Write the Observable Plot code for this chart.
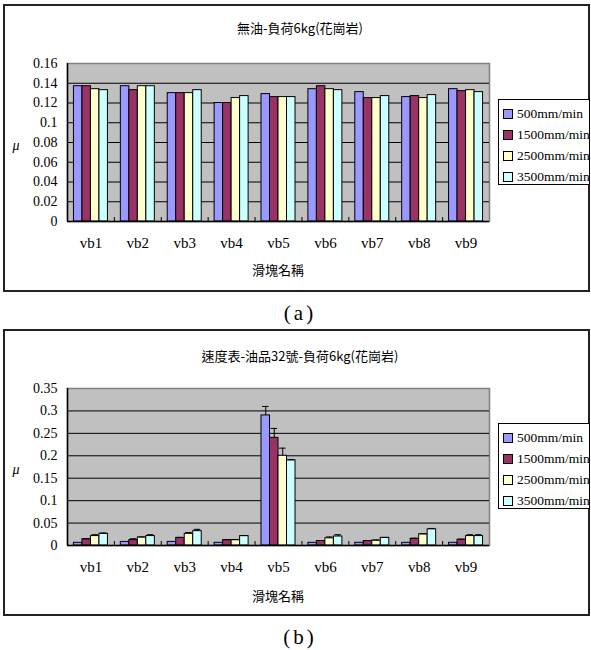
<!DOCTYPE html>
<html><head><meta charset="utf-8">
<script src="https://cdn.jsdelivr.net/npm/d3@7"></script>
<script src="https://cdn.jsdelivr.net/npm/@observablehq/plot@0.6"></script>
<style>
html,body{margin:0;padding:0;background:#fff;}
body{width:591px;height:650px;position:relative;overflow:hidden;font-family:"Liberation Serif",serif;color:#000;}
.box{position:absolute;border:2px solid #222;box-sizing:border-box;}
.lbl{position:absolute;white-space:nowrap;transform:translate(-50%,-50%);line-height:1;}
.svgwrap{position:absolute;left:0;}
.legend{position:absolute;border:1px solid #000;background:#fff;box-sizing:border-box;}
.entry{position:absolute;left:4px;height:16px;display:flex;align-items:center;font-size:13.5px;white-space:nowrap;font-family:"Liberation Serif",serif;}
.sw{width:8px;height:8px;border:1px solid #000;margin-right:4px;flex:none;}
</style>
</head><body>
<script>
const categories = ["vb1","vb2","vb3","vb4","vb5","vb6","vb7","vb8","vb9"];
const series = ["500mm/min","1500mm/min","2500mm/min","3500mm/min"];
const colors = ["#9999ff","#993366","#ffffcc","#ccffff"];

// (a) 無油-負荷6kg(花崗岩)
const a500  = [0.137,0.137,0.130,0.120,0.129,0.134,0.131,0.126,0.134];
const a1500 = [0.137,0.133,0.130,0.120,0.126,0.137,0.125,0.127,0.132];
const a2500 = [0.134,0.137,0.130,0.125,0.126,0.134,0.125,0.125,0.133];
const a3500 = [0.133,0.137,0.133,0.127,0.126,0.133,0.127,0.128,0.131];
const yTicksA = [0,0.02,0.04,0.06,0.08,0.1,0.12,0.14,0.16];

// (b) 速度表-油品32號-負荷6kg(花崗岩)
const b500  = [0.006,0.008,0.008,0.006,0.290,0.006,0.006,0.006,0.006];
const b1500 = [0.014,0.012,0.017,0.012,0.240,0.010,0.010,0.015,0.013];
const b2500 = [0.021,0.018,0.026,0.012,0.200,0.016,0.011,0.025,0.021];
const b3500 = [0.026,0.021,0.032,0.021,0.190,0.020,0.017,0.036,0.021];
const e500  = [0,0,0,0,0.020,0,0,0,0];
const e1500 = [0.001,0.003,0.001,0.001,0.021,0.001,0.001,0.001,0.001];
const e2500 = [0.003,0.001,0.003,0.001,0.017,0.003,0.001,0.001,0.003];
const e3500 = [0.002,0.003,0.004,0.001,0.001,0.004,0.001,0.002,0.003];
const yTicksB = [0,0.05,0.1,0.15,0.2,0.25,0.3,0.35];

const titleA = "無油-負荷6kg(花崗岩)";
const titleB = "速度表-油品32號-負荷6kg(花崗岩)";
const xTitle = "滑塊名稱";
const yTitle = "μ";

function table(cols, errs) {
  const rows = [];
  categories.forEach((c, i) => cols.forEach((col, k) =>
    rows.push({cat: c, i, k, series: series[k], value: col[i], err: errs ? errs[k][i] : 0})));
  return rows;
}

const pad = 0.1375, bw = 0.725 / 4;
const x1 = d => d.i + pad + d.k * bw;
const x2 = d => d.i + pad + (d.k + 1) * bw;
const xc = d => d.i + pad + (d.k + 0.5) * bw;
const serif = "Liberation Serif";

function chart(rows, yTicks, top, height, mt, mb) {
  const yMax = yTicks[yTicks.length - 1];
  const errRows = rows.filter(d => d.err > 0);
  const svg = Plot.plot({
    width: 495, height, marginLeft: 67, marginRight: 6, marginTop: mt, marginBottom: mb,
    style: {fontFamily: serif, fontSize: "14px", color: "#000", background: "transparent", overflow: "visible"},
    x: {type: "linear", domain: [0, categories.length], axis: null},
    y: {domain: [0, yMax], axis: null},
    color: {domain: series, range: colors},
    marks: [
      Plot.frame({fill: "#c0c0c0", stroke: "#808080", strokeWidth: 1.5}),
      Plot.gridY(yTicks.filter(t => t > 0 && t < yMax), {stroke: "#000", strokeOpacity: 1, strokeWidth: 1}),
      Plot.rect(rows, {x1, x2, y1: 0, y2: "value", fill: "series", stroke: "#000", strokeWidth: 1}),
      Plot.ruleX(errRows, {x: xc, y1: "value", y2: d => d.value + d.err, stroke: "#000", strokeWidth: 1}),
      Plot.ruleY(errRows, {y: d => d.value + d.err, x1: d => xc(d) - 0.07, x2: d => xc(d) + 0.07, stroke: "#000", strokeWidth: 1}),
      Plot.ruleY([0], {stroke: "#000", strokeWidth: 1.5}),
      Plot.ruleX([0], {stroke: "#000", strokeWidth: 1.5}),
      Plot.axisY({ticks: yTicks, label: null, tickSize: 0, tickPadding: 10, fontSize: 14, fontFamily: serif, tickFormat: d => String(+d.toFixed(2))}),
      Plot.axisX({ticks: categories.map((c, i) => i + 0.5), label: null, tickSize: 0, tickPadding: 16, fontSize: 15, fontFamily: serif, tickFormat: v => categories[Math.floor(v)]}),
      Plot.axisX({ticks: d3.range(1, categories.length), label: null, tickSize: -4, tickFormat: () => ""})
    ]
  });
  const wrap = document.createElement("div");
  wrap.className = "svgwrap";
  wrap.style.top = top + "px";
  wrap.appendChild(svg);
  document.body.appendChild(wrap);
}

function box(l, t, w, h) {
  const d = document.createElement("div");
  d.className = "box";
  Object.assign(d.style, {left: l + "px", top: t + "px", width: w + "px", height: h + "px"});
  document.body.appendChild(d);
}
function label(text, x, y, css) {
  const d = document.createElement("div");
  d.className = "lbl";
  d.textContent = text;
  Object.assign(d.style, {left: x + "px", top: y + "px"}, css || {});
  document.body.appendChild(d);
}
function legend(top) {
  const lg = document.createElement("div");
  lg.className = "legend";
  Object.assign(lg.style, {left: "498px", top: top + "px", width: "92px", height: "86px"});
  series.forEach((s, k) => {
    const e = document.createElement("div");
    e.className = "entry";
    e.style.top = (6 + k * 21) + "px";
    const sw = document.createElement("span");
    sw.className = "sw";
    sw.style.background = colors[k];
    const t = document.createElement("span");
    t.textContent = s;
    e.appendChild(sw); e.appendChild(t);
    lg.appendChild(e);
  });
  document.body.appendChild(lg);
}

const cjk = {fontFamily: '"Noto Sans CJK TC","Noto Sans CJK SC",sans-serif', fontSize: "13px"};

// panel (a)
box(3, 4, 587, 288);
chart(table([a500, a1500, a2500, a3500]), yTicksA, 0, 292, 63, 71);
label(titleA, 300, 27, cjk);
label(xTitle, 278, 269, cjk);
label(yTitle, 16, 146, {fontStyle: "italic", fontSize: "14px"});
legend(99);
label("(a)", 300, 313, {fontSize: "21px", letterSpacing: "3px"});

// panel (b)
box(3, 329, 587, 287);
chart(table([b500, b1500, b2500, b3500], [e500, e1500, e2500, e3500]), yTicksB, 330, 286, 58, 71);
label(titleB, 300, 355, cjk);
label(xTitle, 278, 595, cjk);
label(yTitle, 16, 470, {fontStyle: "italic", fontSize: "14px"});
legend(423);
label("(b)", 300, 637, {fontSize: "21px", letterSpacing: "3px"});
</script>
</body></html>
